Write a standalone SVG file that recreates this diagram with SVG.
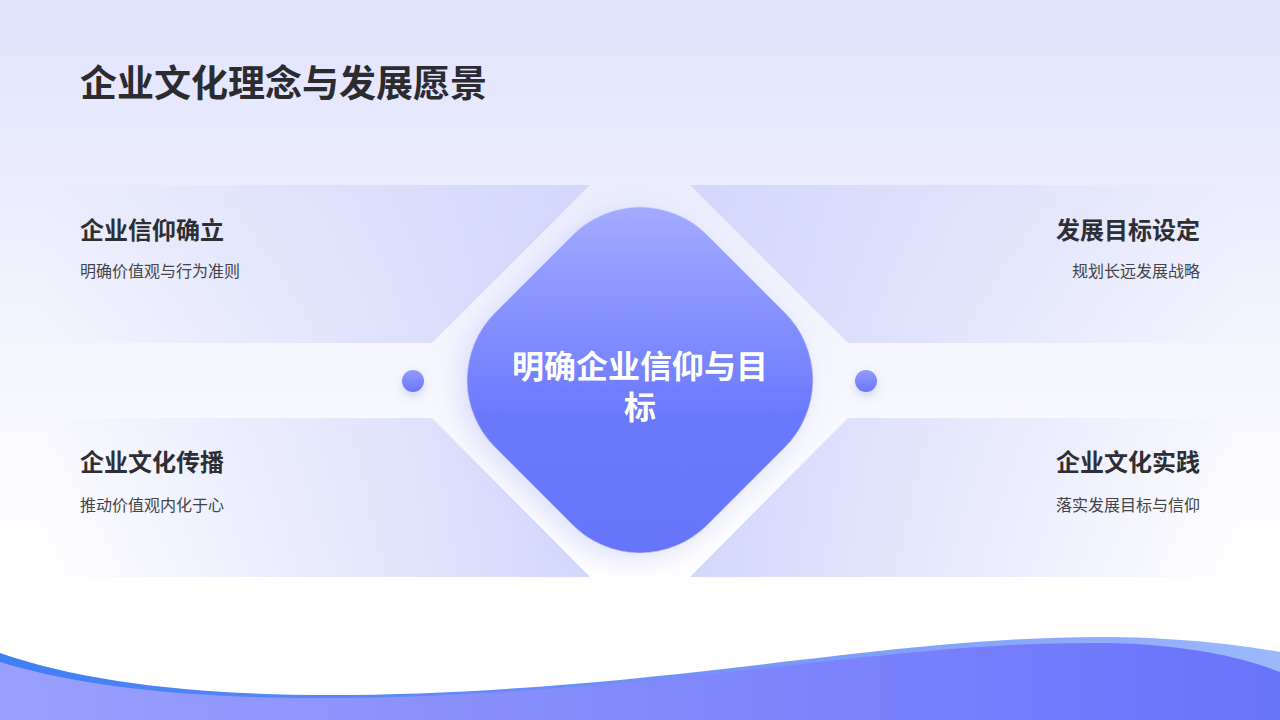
<svg xmlns="http://www.w3.org/2000/svg" width="1280" height="720" viewBox="0 0 1280 720">
  <defs>
    <linearGradient id="bg" x1="0" y1="0" x2="0" y2="1">
      <stop offset="0" stop-color="#e0e3fd"/>
      <stop offset="0.55" stop-color="#f7f8fe"/>
      <stop offset="0.8" stop-color="#ffffff"/>
      <stop offset="1" stop-color="#ffffff"/>
    </linearGradient>
    <linearGradient id="panelL" x1="0" y1="0" x2="1" y2="0">
      <stop offset="0" stop-color="#d3d7fb" stop-opacity="0"/>
      <stop offset="1" stop-color="#d3d7fb" stop-opacity="1"/>
    </linearGradient>
    <linearGradient id="panelR" x1="0" y1="0" x2="1" y2="0">
      <stop offset="0" stop-color="#d3d7fb" stop-opacity="1"/>
      <stop offset="1" stop-color="#d3d7fb" stop-opacity="0"/>
    </linearGradient>
    <linearGradient id="dia" gradientUnits="userSpaceOnUse" x1="640" y1="205" x2="640" y2="555" gradientTransform="rotate(-45 640 380)">
      <stop offset="0" stop-color="#a3abff"/>
      <stop offset="0.6" stop-color="#6b79fc"/>
      <stop offset="1" stop-color="#6675fb"/>
    </linearGradient>
    <linearGradient id="dot" x1="0" y1="0" x2="0" y2="1">
      <stop offset="0" stop-color="#939bfd"/>
      <stop offset="1" stop-color="#6a76fb"/>
    </linearGradient>
    <linearGradient id="waveBack" x1="0" y1="0" x2="1" y2="0">
      <stop offset="0" stop-color="#3f7ff5"/>
      <stop offset="0.5" stop-color="#6f8ff8"/>
      <stop offset="1" stop-color="#9bb9fb"/>
    </linearGradient>
    <linearGradient id="waveFront" x1="0" y1="0" x2="1" y2="0">
      <stop offset="0" stop-color="#9aa0fd"/>
      <stop offset="1" stop-color="#6a73fb"/>
    </linearGradient>
    <filter id="glow" x="-30%" y="-30%" width="160%" height="160%">
      <feDropShadow dx="0" dy="10" stdDeviation="14" flood-color="#6a74f0" flood-opacity="0.22"/>
    </filter>
    <filter id="dotShadow" x="-100%" y="-100%" width="300%" height="300%">
      <feDropShadow dx="0" dy="4" stdDeviation="5" flood-color="#5a64d0" flood-opacity="0.25"/>
    </filter>
  </defs>
  <style>
    .title{font-family:"Noto Sans CJK SC","Noto Sans",sans-serif;font-weight:700;font-size:37px;fill:#2b2b30}
    .head{font-family:"Noto Sans CJK SC","Noto Sans",sans-serif;font-weight:700;font-size:24px;fill:#2e2e33}
    .body{font-family:"Noto Sans CJK SC","Noto Sans",sans-serif;font-weight:400;font-size:16px;fill:#444448}
    .center{font-family:"Noto Sans CJK SC","Noto Sans",sans-serif;font-weight:700;font-size:32px;fill:#ffffff}
  </style>

  <rect width="1280" height="720" fill="url(#bg)"/>

  <text class="title" x="80" y="97">企业文化理念与发展愿景</text>

  <g id="card-top-left">
    <polygon points="40,185 590,185 432,343 40,343" fill="url(#panelL)"/>
    <text class="head" x="80" y="239">企业信仰确立</text>
    <text class="body" x="80" y="277">明确价值观与行为准则</text>
  </g>
  <g id="card-top-right">
    <polygon points="690,185 1240,185 1240,343 848,343" fill="url(#panelR)"/>
    <text class="head" x="1200" y="239" text-anchor="end">发展目标设定</text>
    <text class="body" x="1200" y="277" text-anchor="end">规划长远发展战略</text>
  </g>
  <g id="card-bottom-left">
    <polygon points="40,418 432,418 590,577 40,577" fill="url(#panelL)"/>
    <text class="head" x="80" y="471">企业文化传播</text>
    <text class="body" x="80" y="511">推动价值观内化于心</text>
  </g>
  <g id="card-bottom-right">
    <polygon points="848,418 1240,418 1240,577 690,577" fill="url(#panelR)"/>
    <text class="head" x="1200" y="471" text-anchor="end">企业文化实践</text>
    <text class="body" x="1200" y="511" text-anchor="end">落实发展目标与信仰</text>
  </g>

  <g id="connectors">
    <circle cx="413" cy="381" r="11" fill="url(#dot)" filter="url(#dotShadow)"/>
    <circle cx="866" cy="381" r="11" fill="url(#dot)" filter="url(#dotShadow)"/>
  </g>

  <g id="center-node">
    <rect x="490" y="230" width="300" height="300" rx="95" fill="url(#dia)" transform="rotate(45 640 380)" filter="url(#glow)"/>
    <text class="center" x="640" y="378" text-anchor="middle">明确企业信仰与目</text>
    <text class="center" x="640" y="419" text-anchor="middle">标</text>
  </g>

  <g id="wave">
    <path d="M0,653 C150,705 380,702 620,680 C820,660 960,636 1110,637 C1190,638 1245,646 1280,652 L1280,720 L0,720 Z" fill="url(#waveBack)"/>
    <path d="M0,662 C150,708 380,704 620,683 C820,664 960,641 1110,643 C1190,645 1245,658 1280,672 L1280,720 L0,720 Z" fill="url(#waveFront)"/>
  </g>
</svg>
